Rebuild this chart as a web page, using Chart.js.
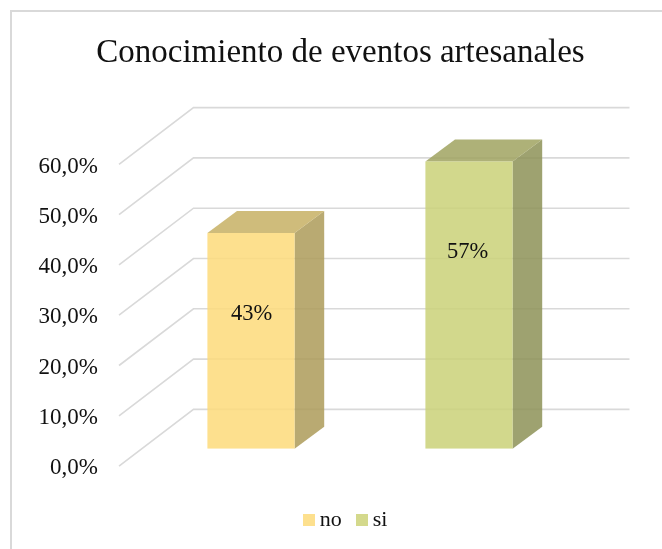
<!DOCTYPE html>
<html>
<head>
<meta charset="utf-8">
<style>
html,body{margin:0;padding:0;background:#fff;width:662px;height:549px;overflow:hidden}
#frame{position:absolute;left:10px;top:10px;width:720px;height:620px;border:2px solid #d9d9d9}
canvas{position:absolute;left:0;top:0}
</style>
<script src="https://cdn.jsdelivr.net/npm/chart.js@4"></script>
</head>
<body>
<div id="frame"></div>
<canvas id="c" width="662" height="549"></canvas>
<script>
const chartTitle = "Conocimiento de eventos artesanales";
const categories = ["no", "si"];
const values = [42.9, 57.1];
const barLabels = ["43%", "57%"];
const frontColors = ["rgba(253,219,122,0.85)", "rgba(202,209,120,0.85)"];
const sideColors = ["rgba(173,155,89,0.85)", "rgba(141,146,87,0.85)"];
const topColors = ["rgba(199,176,100,0.85)", "rgba(160,163,96,0.85)"];
const legendColors = ["#fde08e", "#d4d98c"];

const serif = "'Liberation Serif', serif";
const ink = "#111";

function swatch(color) {
  const s = document.createElement("canvas");
  s.width = 12; s.height = 12;
  const g = s.getContext("2d");
  g.fillStyle = color;
  g.fillRect(0, 0, 12, 12);
  return s;
}

const faces = {
  id: "faces",
  afterLayout(chart) {
    chart.titleBlock.left += 51.5;
    chart.titleBlock.right += 51.5;
    chart.legend.left += 59;
    chart.legend.right += 59;
    chart.legend.top -= 8;
    chart.legend.bottom -= 8;
  },
  beforeDatasetsDraw(chart) {
    const { ctx, chartArea, scales } = chart;
    const y = scales.y;
    ctx.save();
    ctx.strokeStyle = "#d9d9d9";
    ctx.lineWidth = 1.6;
    y.ticks.forEach(t => {
      const py = y.getPixelForValue(t.value);
      ctx.beginPath();
      ctx.moveTo(chartArea.left - 23, py + 17.3);
      ctx.lineTo(chartArea.left + 51.5, py - 39.4);
      ctx.lineTo(chartArea.right + 51.5, py - 39.4);
      ctx.stroke();
    });
    const meta = chart.getDatasetMeta(0);
    const dx = 29.6, dy = 22.1;
    meta.data.forEach((bar, i) => {
      const p = bar.getProps(["x", "y", "base", "width"], true);
      const l = p.x - p.width / 2, r = p.x + p.width / 2;
      ctx.fillStyle = sideColors[i];
      ctx.beginPath();
      ctx.moveTo(r, p.y);
      ctx.lineTo(r + dx, p.y - dy);
      ctx.lineTo(r + dx, p.base - dy);
      ctx.lineTo(r, p.base);
      ctx.closePath();
      ctx.fill();
      ctx.fillStyle = topColors[i];
      ctx.beginPath();
      ctx.moveTo(l, p.y);
      ctx.lineTo(l + dx, p.y - dy);
      ctx.lineTo(r + dx, p.y - dy);
      ctx.lineTo(r, p.y);
      ctx.closePath();
      ctx.fill();
    });
    ctx.restore();
  },
  afterDatasetsDraw(chart) {
    const { ctx } = chart;
    const lift = [0.625, 0.685];
    const nudge = [0.5, -1.5];
    ctx.save();
    ctx.font = "22.5px " + serif;
    ctx.fillStyle = ink;
    ctx.textAlign = "center";
    ctx.textBaseline = "middle";
    chart.getDatasetMeta(0).data.forEach((bar, i) => {
      const p = bar.getProps(["x", "y", "base"], true);
      ctx.fillText(barLabels[i], p.x + nudge[i], p.base - (p.base - p.y) * lift[i]);
    });
    ctx.restore();
  }
};

new Chart(document.getElementById("c"), {
  type: "bar",
  data: {
    labels: categories,
    datasets: [{
      data: values,
      backgroundColor: frontColors,
      borderWidth: 0,
      barPercentage: 0.4,
      categoryPercentage: 1
    }]
  },
  options: {
    responsive: false,
    animation: false,
    devicePixelRatio: 1,
    layout: { padding: { left: 0, right: 84, top: 0, bottom: 0 } },
    plugins: {
      tooltip: { enabled: false },
      title: {
        display: true,
        text: chartTitle,
        color: ink,
        font: { family: serif, size: 33, weight: "normal", lineHeight: 1.2 },
        padding: { top: 34, bottom: 73.4 }
      },
      legend: {
        position: "bottom",
        onClick: null,
        labels: {
          color: ink,
          font: { family: serif, size: 22 },
          padding: 20,
          boxWidth: 0.01,
          usePointStyle: true,
          generateLabels: () => categories.map((name, i) => ({
            text: name,
            pointStyle: swatch(legendColors[i]),
            fontColor: ink,
            datasetIndex: 0,
            index: i
          }))
        }
      }
    },
    scales: {
      x: {
        grid: { display: false },
        border: { display: false },
        ticks: { display: false },
        afterFit(s) { s.height = 48.2; }
      },
      y: {
        min: 0,
        max: 60,
        grid: { display: false },
        border: { display: false },
        afterFit(s) { s.width = 142; },
        ticks: {
          stepSize: 10,
          padding: 36,
          labelOffset: 19.5,
          color: ink,
          font: { family: serif, size: 23 },
          callback: v => v.toFixed(1).replace(".", ",") + "%"
        }
      }
    }
  },
  plugins: [faces]
});
</script>
</body>
</html>
